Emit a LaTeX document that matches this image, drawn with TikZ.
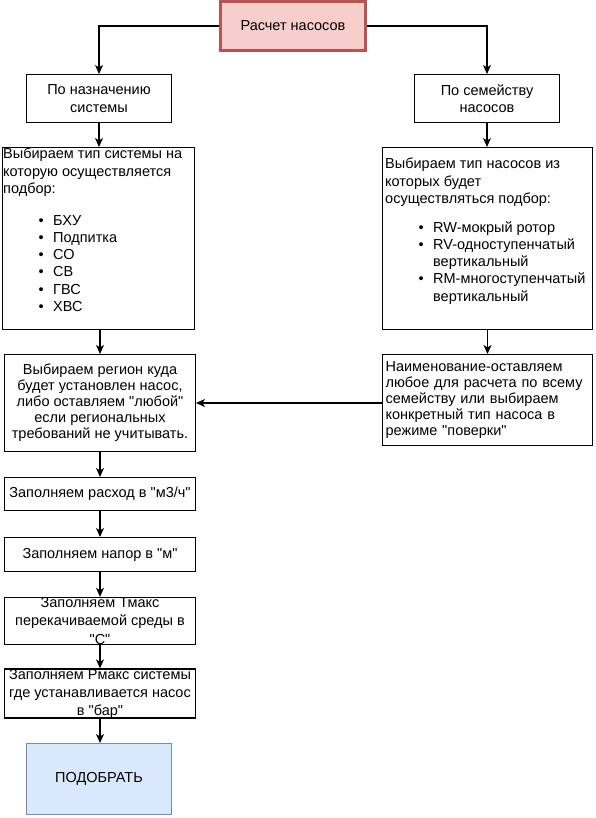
\documentclass[tikz,border=0pt]{standalone}
\usepackage{fontspec}
\setmainfont{Liberation Sans}[Ligatures=TeXOff]
\usetikzlibrary{arrows.meta}
\definecolor{redfill}{HTML}{F8CECC}
\definecolor{redline}{HTML}{B85450}
\definecolor{bluefill}{HTML}{DAE8FC}
\definecolor{blueline}{HTML}{6C8EBF}
\newcommand\mfs[1]{\fontsize{14.5}{#1}\selectfont}
\newcommand\bul[1]{\hspace*{#1}\makebox[14.5pt][l]{•}}
\begin{document}
\begin{tikzpicture}[x=1pt,y=-1pt,
  box/.style={draw=black, line width=1.2pt, fill=white, inner sep=0pt, align=center, font=\mfs{17.5}},
  txt/.style={inner sep=0pt, align=left, font=\mfs{17.2}},
  arr/.style={line width=1.2pt, -{Stealth[length=9pt,width=8pt,inset=2.5pt]}}]
\path[use as bounding box, fill=white] (0,0) rectangle (596,818);

\node[box, draw=redline, fill=redfill, line width=2.6pt, minimum width=145.5pt, minimum height=49.5pt] (top) at (293,26) {Расчет насосов};
\node[box, minimum width=144.8pt, minimum height=47.8pt] (n1) at (99,98.5) {По назначению\\системы};
\node[box, minimum width=144.8pt, minimum height=47.8pt] (n2) at (487,98.5) {По семейству\\насосов};

\node[box, minimum width=191.8pt, minimum height=181.8pt] (b1) at (98.5,238.5) {};
\node[txt, anchor=north west] (b1t) at (3,148) {Выбираем тип системы на\\которую осуществляется\\подбор:\\[14.8pt]
\bul{35.5pt}БХУ\\\bul{35.5pt}Подпитка\\\bul{35.5pt}СО\\\bul{35.5pt}СВ\\\bul{35.5pt}ГВС\\\bul{35.5pt}ХВС};

\node[box, minimum width=209.8pt, minimum height=181.8pt] (b2) at (487.5,238.5) {};
\node[txt, anchor=north west] (b2t) at (385,158) {Выбираем тип насосов из\\которых будет\\осуществляться подбор:\\[11.8pt]
\bul{33.5pt}RW-мокрый ротор\\\bul{33.5pt}RV-одноступенчатый\\\hspace*{48pt}вертикальный\\\bul{33.5pt}RM-многоступенчатый\\\hspace*{48pt}вертикальный};

\node[box, font=\mfs{16}, minimum width=190.8pt, minimum height=96.8pt] (reg) at (100,403) {Выбираем регион куда\\будет установлен насос,\\либо оставляем "любой"\\если региональных\\требований не учитывать.};
\node[box, font=\mfs{16}, align=left, text width=203.8pt, inner xsep=3pt, minimum width=209.8pt, minimum height=90.8pt] (naim) at (487.5,400) {Наименование-оставляем\\любое для расчета по всему\\семейству или выбираем\\конкретный тип насоса в\\режиме "поверки"};

\node[box, minimum width=190.8pt, minimum height=32.8pt] (ras) at (100,494) {Заполняем расход в "м3/ч"};
\node[box, minimum width=190.8pt, minimum height=33.8pt] (nap) at (100,554.5) {Заполняем напор в "м"};
\node[box, font=\mfs{18.5}, minimum width=190.8pt, minimum height=46.8pt] (tmax) at (100,621) {Заполняем Тмакс\\перекачиваемой среды в\\"С"};
\node[box, font=\mfs{18}, minimum width=190.8pt, minimum height=47.8pt] (pmax) at (100,693.5) {Заполняем Рмакс системы\\где устанавливается насос\\в "бар"};
\node[box, draw=blueline, fill=bluefill, minimum width=144.8pt, minimum height=70.8pt] (pod) at (99,779) {ПОДОБРАТЬ};

\draw[arr] (top.west) -| (n1.north);
\draw[arr] (top.east) -| (n2.north);
\draw[arr] (n1.south) -- (n1.south |- b1.north);
\draw[arr] (n2.south) -- (n2.south |- b2.north);
\draw[arr] (reg.north |- b1.south) -- (reg.north);
\draw[arr] (b2.south) -- (naim.north);
\draw[arr] (naim.west |- reg.east) -- (reg.east);
\draw[arr] (reg.south) -- (ras.north);
\draw[arr] (ras.south) -- (nap.north);
\draw[arr] (nap.south) -- (tmax.north);
\draw[arr] (tmax.south) -- (pmax.north);
\draw[arr] (pmax.south) -- (pmax.south |- pod.north);
\end{tikzpicture}
\end{document}
